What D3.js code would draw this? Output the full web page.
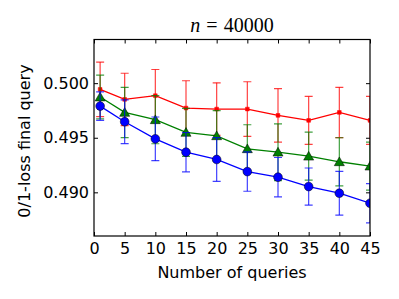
<!DOCTYPE html>
<meta charset="utf-8">
<script src="https://d3js.org/d3.v7.min.js"></script>
<style>
    body { margin: 0; background: #fff; }
    text { font-family: 'DejaVu Sans', sans-serif; }
    text.title { font-family: 'Liberation Serif', serif; }
</style>
<div id="chart"></div>
<script>
    // data
    let queries = [1, 5, 10, 15, 20, 25, 30, 35, 40, 45];
    let redMean = [0.49943, 0.49851, 0.49885, 0.49772, 0.49763, 0.49763, 0.49705, 0.49659, 0.49732, 0.49659];
    let redErr = [0.0025, 0.0024, 0.0024, 0.0025, 0.0024, 0.0025, 0.00245, 0.0022, 0.0023, 0.0022];
    let greenMean = [0.49873, 0.49732, 0.49665, 0.49549, 0.49518, 0.49399, 0.49368, 0.49331, 0.4928, 0.4924];
    let greenErr = [0.002, 0.0023, 0.0022, 0.0022, 0.0023, 0.0022, 0.0026, 0.0022, 0.0022, 0.0022];
    let blueMean = [0.4979, 0.49647, 0.4949, 0.49368, 0.49301, 0.4919, 0.49139, 0.49053, 0.48992, 0.489];
    let blueErr = [0.0013, 0.002, 0.002, 0.0018, 0.002, 0.0018, 0.0018, 0.0017, 0.002, 0.0018];
    let xTicks = [0, 5, 10, 15, 20, 25, 30, 35, 40, 45];
    let yTicks = [0.490, 0.495, 0.500];

    let margin = {top: 39.5, right: 29, bottom: 63, left: 94},
        width = 399 - margin.left - margin.right,
        height = 299 - margin.top - margin.bottom;

    let svg = d3.select("#chart")
        .append("svg")
        .attr("width", 399)
        .attr("height", 299);

    let g = svg.append("g")
        .attr("transform", "translate(" + margin.left + "," + margin.top + ")");

    let x = d3.scaleLinear().domain([0, 45]).range([0, width]);
    let y = d3.scaleLinear().domain([0.486, 0.504]).range([height, 0]);

    g.append("clipPath").attr("id", "clip")
        .append("rect").attr("width", width).attr("height", height);

    let plot = g.append("g").attr("clip-path", "url(#clip)");

    let series = [
        {mean: redMean, err: redErr, color: "#ff0000", marker: "square"},
        {mean: greenMean, err: greenErr, color: "#008000", marker: "triangle"},
        {mean: blueMean, err: blueErr, color: "#0000ff", marker: "circle"}
    ];

    series.forEach(function (s) {
        let pts = queries.map(function (q, i) {
            return {q: q, m: s.mean[i], e: s.err[i]};
        });
        let bars = plot.append("g")
            .attr("stroke", s.color)
            .attr("stroke-opacity", 0.75)
            .attr("stroke-width", 1.2);
        pts.forEach(function (d) {
            let cx = x(d.q);
            bars.append("line")
                .attr("x1", cx).attr("x2", cx)
                .attr("y1", y(d.m - d.e)).attr("y2", y(d.m + d.e));
            [d.m - d.e, d.m + d.e].forEach(function (v) {
                bars.append("line")
                    .attr("x1", cx - 4).attr("x2", cx + 4)
                    .attr("y1", y(v)).attr("y2", y(v));
            });
        });

        plot.append("path")
            .datum(pts)
            .attr("fill", "none")
            .attr("stroke", s.color)
            .attr("stroke-width", 1.3)
            .attr("d", d3.line().x(function (d) { return x(d.q); }).y(function (d) { return y(d.m); }));

        let sym = s.marker === "circle" ? d3.symbolCircle :
            s.marker === "triangle" ? d3.symbolTriangle : d3.symbolSquare;
        let size = s.marker === "circle" ? 60 : s.marker === "triangle" ? 44 : 14;
        plot.selectAll(null)
            .data(pts)
            .enter()
            .append("path")
            .attr("transform", function (d) {
                return "translate(" + x(d.q) + "," + (y(d.m) + (s.marker === "triangle" ? 1 : 0)) + ")";
            })
            .attr("d", d3.symbol().type(sym).size(size))
            .attr("fill", s.color)
            .attr("stroke", s.marker === "square" ? s.color : "#000")
            .attr("stroke-width", 0.5);
    });

    // axes with inward ticks on all sides
    let tick = 4;
    g.append("g")
        .attr("transform", "translate(0," + height + ")")
        .call(d3.axisBottom(x).tickValues(xTicks).tickSizeInner(-tick).tickSizeOuter(0).tickPadding(7))
        .call(function (a) { a.select(".domain").remove(); })
        .selectAll("text").attr("font-size", 16).attr("fill", "#000");
    g.append("g")
        .call(d3.axisTop(x).tickValues(xTicks).tickSizeInner(-tick).tickSizeOuter(0).tickFormat(""))
        .call(function (a) { a.select(".domain").remove(); });
    g.append("g")
        .call(d3.axisLeft(y).tickValues(yTicks).tickFormat(d3.format(".3f")).tickSizeInner(-tick).tickSizeOuter(0).tickPadding(5))
        .call(function (a) { a.select(".domain").remove(); })
        .selectAll("text").attr("font-size", 16).attr("fill", "#000");
    g.append("g")
        .attr("transform", "translate(" + width + ",0)")
        .call(d3.axisRight(y).tickValues(yTicks).tickSizeInner(-tick).tickSizeOuter(0).tickFormat(""))
        .call(function (a) { a.select(".domain").remove(); });

    g.append("rect")
        .attr("width", width).attr("height", height)
        .attr("fill", "none").attr("stroke", "#000").attr("stroke-width", 1.2);

    // title
    let title = svg.append("text")
        .attr("class", "title")
        .attr("x", margin.left + width / 2)
        .attr("y", 31.5)
        .attr("text-anchor", "middle")
        .attr("font-size", 20);
    title.append("tspan").attr("font-style", "italic").text("n");
    title.append("tspan").attr("dx", 6).text("=");
    title.append("tspan").attr("dx", 6).text("40000");

    svg.append("text")
        .attr("x", margin.left + width / 2)
        .attr("y", 278)
        .attr("text-anchor", "middle")
        .attr("font-size", 16)
        .text("Number of queries");

    svg.append("text")
        .attr("transform", "rotate(-90)")
        .attr("x", -141)
        .attr("y", 30)
        .attr("text-anchor", "middle")
        .attr("font-size", 16)
        .text("0/1-loss final query");
</script>
